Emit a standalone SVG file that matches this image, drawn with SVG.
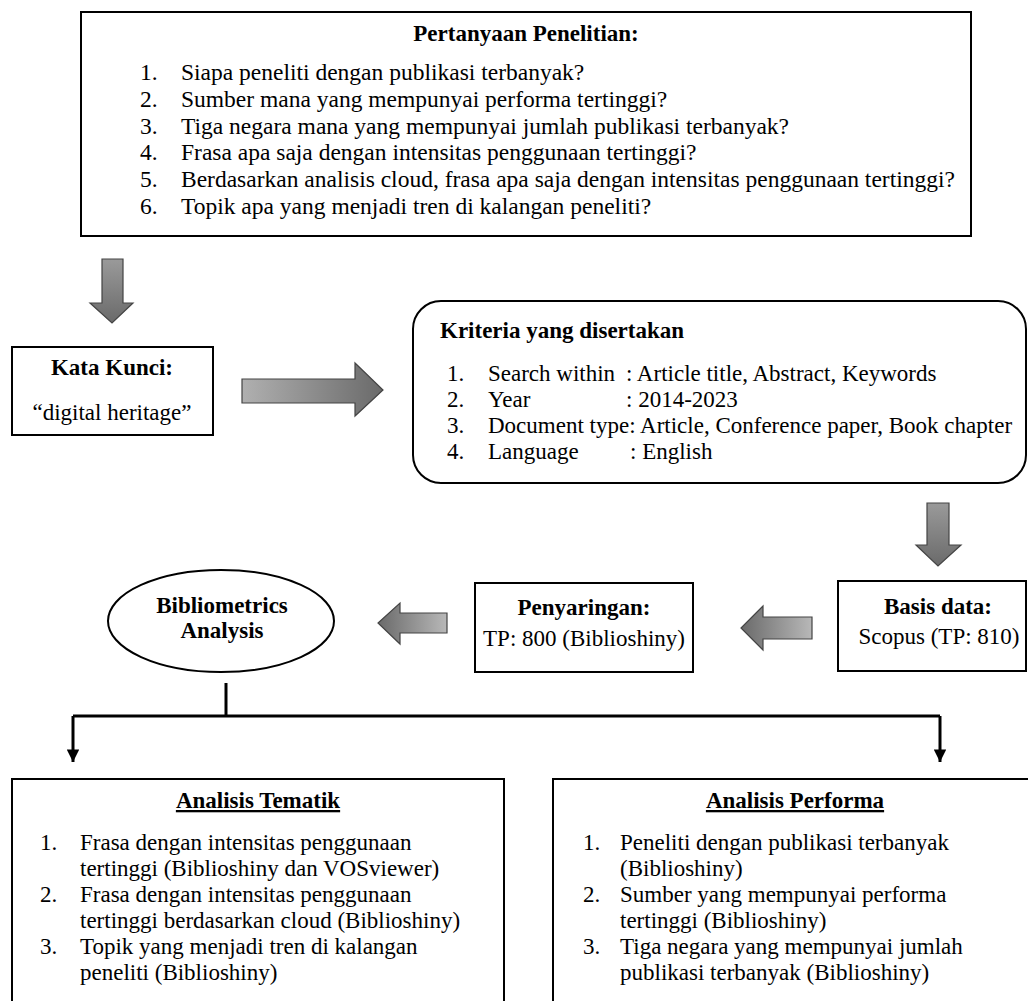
<svg xmlns="http://www.w3.org/2000/svg" width="1028" height="1001" viewBox="0 0 1028 1001">
<defs>
<linearGradient id="gDown" x1="0" y1="0" x2="0" y2="1"><stop offset="0" stop-color="#9a9a9a"/><stop offset="1" stop-color="#6a6a6a"/></linearGradient>
<linearGradient id="gRight" x1="0" y1="0" x2="1" y2="0"><stop offset="0" stop-color="#b0b0b0"/><stop offset="1" stop-color="#6a6a6a"/></linearGradient>
<linearGradient id="gLeft" x1="1" y1="0" x2="0" y2="0"><stop offset="0" stop-color="#b8b8b8"/><stop offset="1" stop-color="#6a6a6a"/></linearGradient>
<marker id="ah" viewBox="0 0 10 10" refX="10" refY="5" markerWidth="4.2" markerHeight="4.2" markerUnits="strokeWidth" orient="auto"><path d="M0,0 L10,5 L0,10 Z" fill="#000"/></marker>
</defs>
<style>
text{font-family:"Liberation Serif","Times New Roman",serif;font-size:23px;fill:#000}
.t{font-size:23.5px}
.b{font-weight:bold}
.c{text-anchor:middle}
.u{text-decoration:underline}
.box{fill:#fff;stroke:#000;stroke-width:2}
.blk{stroke:#444;stroke-width:1.2}
.ln{fill:none;stroke:#000;stroke-width:3}
</style>
<rect width="1028" height="1001" fill="#fff"/>

<g id="pertanyaan">
<rect class="box" x="81" y="12" width="890" height="224"/>
<text class="b c" x="526" y="41">Pertanyaan Penelitian:</text>
<text class="t" x="140" y="80">1.</text><text class="t" x="181" y="80">Siapa peneliti dengan publikasi terbanyak?</text>
<text class="t" x="140" y="107">2.</text><text class="t" x="181" y="107">Sumber mana yang mempunyai performa tertinggi?</text>
<text class="t" x="140" y="134">3.</text><text class="t" x="181" y="134">Tiga negara mana yang mempunyai jumlah publikasi terbanyak?</text>
<text class="t" x="140" y="160">4.</text><text class="t" x="181" y="160">Frasa apa saja dengan intensitas penggunaan tertinggi?</text>
<text class="t" x="140" y="187">5.</text><text class="t" x="181" y="187">Berdasarkan analisis cloud, frasa apa saja dengan intensitas penggunaan tertinggi?</text>
<text class="t" x="140" y="214">6.</text><text class="t" x="181" y="214">Topik apa yang menjadi tren di kalangan peneliti?</text>
</g>

<g id="kata-kunci">
<rect class="box" x="12" y="347" width="201" height="88"/>
<text class="b c" x="112" y="375">Kata Kunci:</text>
<text class="c" x="112" y="420">“digital heritage”</text>
</g>

<g id="kriteria">
<rect class="box" x="413" y="301" width="613" height="182" rx="28" ry="28"/>
<text class="b" x="440" y="338">Kriteria yang disertakan</text>
<text x="447" y="381">1.</text><text x="488" y="381">Search within</text><text x="626" y="381">: Article title, Abstract, Keywords</text>
<text x="447" y="407">2.</text><text x="488" y="407">Year</text><text x="626" y="407">: 2014-2023</text>
<text x="447" y="433">3.</text><text x="488" y="433">Document type: Article, Conference paper, Book chapter</text>
<text x="447" y="459">4.</text><text x="488" y="459">Language</text><text x="630" y="459">: English</text>
</g>

<g id="basis-data">
<rect class="box" x="838" y="581" width="188" height="90"/>
<text class="b c" x="938" y="614">Basis data:</text>
<text class="c" x="939" y="644">Scopus (TP: 810)</text>
</g>

<g id="penyaringan">
<rect class="box" x="475" y="583" width="218" height="89"/>
<text class="b c" x="584" y="615">Penyaringan:</text>
<text class="c" x="584" y="646">TP: 800 (Biblioshiny)</text>
</g>

<g id="bibliometrics">
<ellipse class="box" cx="221" cy="621" rx="113" ry="51"/>
<text class="b c" x="222" y="613">Bibliometrics</text>
<text class="b c" x="222" y="638">Analysis</text>
</g>

<g id="analisis-tematik">
<rect class="box" x="12" y="779" width="492" height="230"/>
<text class="b c u" x="258" y="808">Analisis Tematik</text>
<text x="40" y="850">1.</text><text x="80" y="850">Frasa dengan intensitas penggunaan</text>
<text x="80" y="876">tertinggi (Biblioshiny dan VOSviewer)</text>
<text x="40" y="902">2.</text><text x="80" y="902">Frasa dengan intensitas penggunaan</text>
<text x="80" y="928">tertinggi berdasarkan cloud (Biblioshiny)</text>
<text x="40" y="954">3.</text><text x="80" y="954">Topik yang menjadi tren di kalangan</text>
<text x="80" y="980">peneliti (Biblioshiny)</text>
</g>

<g id="analisis-performa">
<rect class="box" x="553" y="779" width="480" height="230"/>
<text class="b c u" x="795" y="808">Analisis Performa</text>
<text x="583" y="850">1.</text><text x="620" y="850">Peneliti dengan publikasi terbanyak</text>
<text x="620" y="876">(Biblioshiny)</text>
<text x="583" y="902">2.</text><text x="620" y="902">Sumber yang mempunyai performa</text>
<text x="620" y="928">tertinggi (Biblioshiny)</text>
<text x="583" y="954">3.</text><text x="620" y="954">Tiga negara yang mempunyai jumlah</text>
<text x="620" y="980">publikasi terbanyak (Biblioshiny)</text>
</g>

<g id="connectors">
<path class="blk" fill="url(#gDown)" d="M102,259 H123 V303 H133 L112,323 L90,303 H102 Z"/>
<path class="blk" fill="url(#gRight)" d="M242,379 H355 V363 L383,390 L355,416 V403 H242 Z"/>
<path class="blk" fill="url(#gDown)" d="M927,503 H949 V545 H961 L938,566 L916,545 H927 Z"/>
<path class="blk" fill="url(#gLeft)" d="M812,617 H763 V606 L741,628 L763,650 V639 H812 Z"/>
<path class="blk" fill="url(#gLeft)" d="M447,613 H400 V603 L378,623 L400,644 V633 H447 Z"/>
<path class="ln" d="M226,683 V716"/>
<path class="ln" d="M73,716 H940"/>
<path class="ln" d="M73,716 V762" marker-end="url(#ah)"/>
<path class="ln" d="M940,716 V762" marker-end="url(#ah)"/>
</g>
</svg>
